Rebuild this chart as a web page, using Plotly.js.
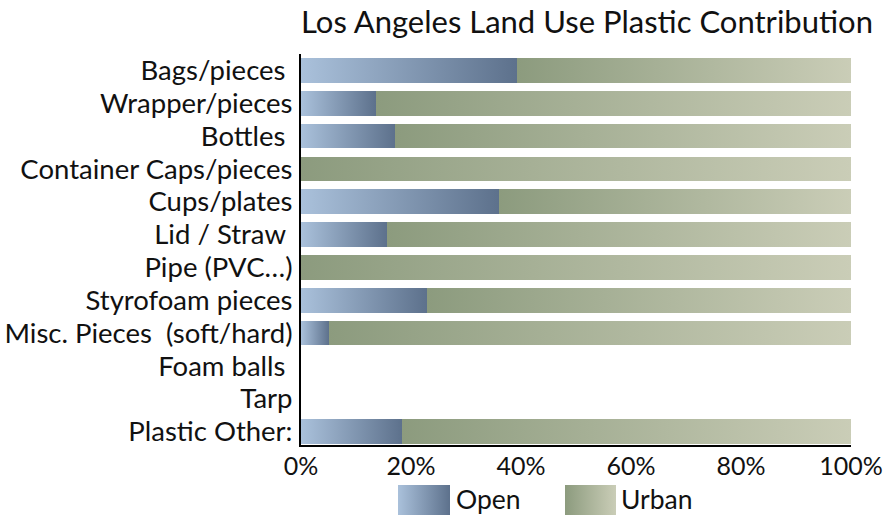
<!DOCTYPE html>
<html>
<head>
<meta charset="utf-8">
<script src="https://cdn.plot.ly/plotly-3.0.1.min.js"></script>
<style>html,body{margin:0;padding:0;background:#fff;}#chart{width:886px;height:515px;}</style>
</head>
<body>
<div id="chart"></div>
<script>
// Data (percent of plastic items by land use)
const categories = [
  "Bags/pieces\u00A0",
  "Wrapper/pieces",
  "Bottles\u00A0",
  "Container Caps/pieces",
  "Cups/plates",
  "Lid / Straw\u00A0",
  "Pipe (PVC\u2026)",
  "Styrofoam pieces",
  "Misc. Pieces\u00A0\u00A0(soft/hard)",
  "Foam balls\u00A0",
  "Tarp",
  "Plastic Other:"
];
const openValues  = [39.3, 13.6, 17.1, 0, 36.0, 15.6, 0, 22.9, 5.1, null, null, 18.4];
const urbanValues = [60.7, 86.4, 82.9, 100, 64.0, 84.4, 100, 77.1, 94.9, null, null, 81.6];
const seriesNames = ["Open", "Urban"];
const xTickValues = [0, 20, 40, 60, 80, 100];
const xTickLabels = ["0%", "20%", "40%", "60%", "80%", "100%"];

const FONT = "Lato, 'Open Sans', sans-serif";

// plot area in pixels
const L = 301, R = 851, T = 54, B = 445, W = 886, H = 515;
const px = x => (x - L) / (R - L);
const py = y => (B - y) / (B - T);

const traces = [
  {type: 'bar', orientation: 'h', name: seriesNames[0], y: categories, x: openValues,
   marker: {color: '#8499b4', line: {width: 0}}, hoverinfo: 'x+y'},
  {type: 'bar', orientation: 'h', name: seriesNames[1], y: categories, x: urbanValues,
   marker: {color: '#abb39a', line: {width: 0}}, hoverinfo: 'x+y'}
];

const layout = {
  width: W, height: H,
  margin: {l: L, r: W - R, t: T, b: H - B, pad: 0},
  paper_bgcolor: '#fff', plot_bgcolor: '#fff',
  barmode: 'stack', bargap: 0.25,
  showlegend: false,
  font: {family: FONT, color: '#111', size: 24},
  title: {text: "Los Angeles Land Use Plastic Contribution", font: {family: FONT, size: 31, color: '#111'},
          xref: 'container', x: 587 / W, xanchor: 'center', yref: 'container', y: 1 - 22 / H, yanchor: 'middle'},
  xaxis: {range: [0, 100], tickvals: xTickValues, ticktext: xTickLabels, showgrid: false, zeroline: false,
          showline: true, linecolor: '#000', linewidth: 2, ticks: '', tickfont: {size: 25, family: FONT},
          ticklabelstandoff: -2, fixedrange: true},
  yaxis: {type: 'category', categoryorder: 'array', categoryarray: categories,
          tickmode: 'array', tickvals: categories, ticktext: categories,
          range: [11.41, -0.5], showgrid: false, zeroline: false, showline: true, linecolor: '#000',
          linewidth: 2, ticks: '', ticklabelstandoff: 1, tickfont: {size: 27.5, family: FONT}, fixedrange: true},
  shapes: [
    {type: 'rect', xref: 'paper', yref: 'paper', x0: px(398), x1: px(450), y0: py(485), y1: py(516), line: {width: 0}, fillcolor: '#8499b4'},
    {type: 'rect', xref: 'paper', yref: 'paper', x0: px(565), x1: px(616), y0: py(485), y1: py(516), line: {width: 0}, fillcolor: '#abb39a'}
  ],
  annotations: [
    {text: seriesNames[0], xref: 'paper', yref: 'paper', x: px(454), y: py(499), xanchor: 'left', yanchor: 'middle', showarrow: false, font: {size: 26.5, family: FONT, color: '#111'}},
    {text: seriesNames[1], xref: 'paper', yref: 'paper', x: px(619), y: py(499), xanchor: 'left', yanchor: 'middle', showarrow: false, font: {size: 26.5, family: FONT, color: '#111'}}
  ]
};

function applyGradients(gd) {
  const svg = gd.querySelector('svg.main-svg');
  const NS = 'http://www.w3.org/2000/svg';
  let defs = svg.querySelector('defs#customGrad');
  if (!defs) {
    defs = document.createElementNS(NS, 'defs');
    defs.id = 'customGrad';
    const grads = [
      ['gradOpen', '#aac1db', '#5d718c'],
      ['gradUrban', '#8c9b7e', '#cacdb7']
    ];
    grads.forEach(([id, c0, c1]) => {
      const g = document.createElementNS(NS, 'linearGradient');
      g.setAttribute('id', id);
      g.setAttribute('x1', '0'); g.setAttribute('x2', '1');
      g.setAttribute('y1', '0'); g.setAttribute('y2', '0');
      [[0, c0], [1, c1]].forEach(([o, c]) => {
        const s = document.createElementNS(NS, 'stop');
        s.setAttribute('offset', o); s.setAttribute('stop-color', c);
        g.appendChild(s);
      });
      defs.appendChild(g);
    });
    svg.insertBefore(defs, svg.firstChild);
  }
  const ids = ['gradOpen', 'gradUrban'];
  gd.querySelectorAll('.barlayer .trace').forEach((tr, i) => {
    tr.querySelectorAll('.point path').forEach(p => { p.style.fill = 'url(#' + ids[i] + ')'; });
  });
  gd.querySelectorAll('.shapelayer path').forEach(p => {
    const idx = +p.getAttribute('data-index');
    if (!isNaN(idx) && ids[idx]) p.style.fill = 'url(#' + ids[idx] + ')';
  });
}

const gd = document.getElementById('chart');
Plotly.newPlot(gd, traces, layout, {displayModeBar: false, staticPlot: true}).then(() => applyGradients(gd));
</script>
</body>
</html>
